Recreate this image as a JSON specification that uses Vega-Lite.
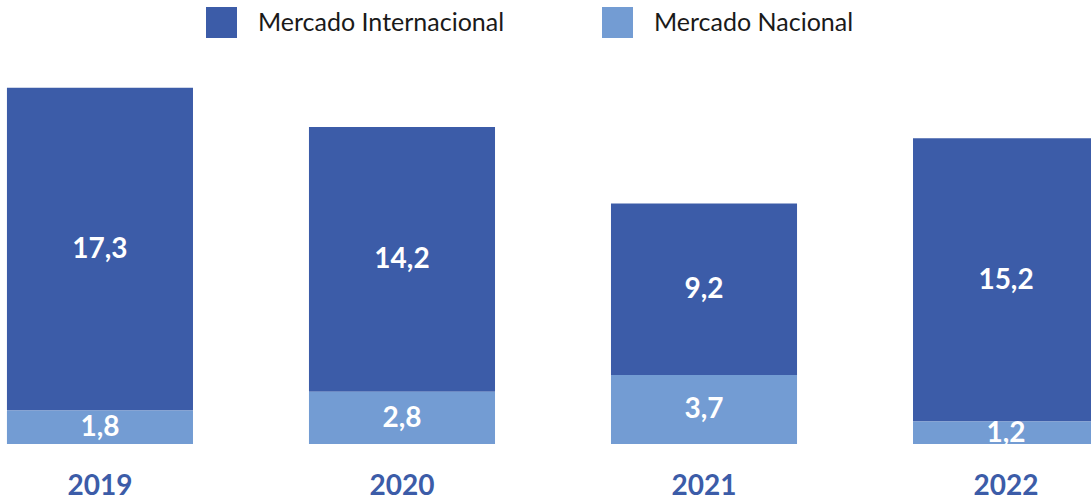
{
  "$schema": "https://vega.github.io/schema/vega-lite/v6.json",
  "width": 1106,
  "height": 373,
  "autosize": {"type": "none"},
  "padding": {"left": 0, "top": 71, "right": 0, "bottom": 56},
  "background": "white",
  "config": {"view": {"stroke": null}},
  "data": {"values": [
    {"ano": "2019", "mercado": "Mercado Internacional", "valor": 17.3, "ord": 2, "rotulo": "17,3"},
    {"ano": "2019", "mercado": "Mercado Nacional", "valor": 1.8, "ord": 1, "rotulo": "1,8"},
    {"ano": "2020", "mercado": "Mercado Internacional", "valor": 14.2, "ord": 2, "rotulo": "14,2"},
    {"ano": "2020", "mercado": "Mercado Nacional", "valor": 2.8, "ord": 1, "rotulo": "2,8"},
    {"ano": "2021", "mercado": "Mercado Internacional", "valor": 9.2, "ord": 2, "rotulo": "9,2"},
    {"ano": "2021", "mercado": "Mercado Nacional", "valor": 3.7, "ord": 1, "rotulo": "3,7"},
    {"ano": "2022", "mercado": "Mercado Internacional", "valor": 15.2, "ord": 2, "rotulo": "15,2"},
    {"ano": "2022", "mercado": "Mercado Nacional", "valor": 1.2, "ord": 1, "rotulo": "1,2"}
  ]},
  "transform": [
    {"stack": "valor", "groupby": ["ano"], "sort": [{"field": "ord", "order": "ascending"}], "as": ["y0", "y1"]},
    {"calculate": "(datum.y0 + datum.y1) / 2", "as": "ymid"}
  ],
  "encoding": {
    "x": {
      "field": "ano", "type": "nominal", "title": null,
      "scale": {"paddingInner": 0.384, "paddingOuter": 0.023},
      "axis": {"domain": false, "ticks": false, "labelAngle": 0, "labelPadding": 42, "labelBaseline": "middle",
        "labelFont": "Lato", "labelFontWeight": "bold", "labelFontSize": 28, "labelColor": "#3c5ca8"}
    }
  },
  "layer": [
    {
      "mark": {"type": "bar"},
      "encoding": {
        "y": {"field": "y0", "type": "quantitative", "scale": {"domain": [0, 20], "nice": false}, "axis": null},
        "y2": {"field": "y1"},
        "color": {
          "field": "mercado", "type": "nominal",
          "scale": {"domain": ["Mercado Internacional", "Mercado Nacional"], "range": ["#3c5ca8", "#739cd3"]},
          "legend": {
            "title": null, "orient": "none", "direction": "horizontal", "legendX": 206, "legendY": -64,
            "symbolType": "square", "symbolSize": 961, "symbolStrokeWidth": 0, "symbolOpacity": 1,
            "labelFont": "Lato", "labelFontSize": 25, "labelColor": "#1a1a1a", "labelOffset": 21,
            "columnPadding": 97, "padding": 0, "labelLimit": 400
          }
        }
      }
    },
    {
      "mark": {"type": "text", "color": "white", "font": "Lato", "fontWeight": "bold", "fontSize": 28, "baseline": "middle", "dy": 1},
      "encoding": {
        "y": {"field": "ymid", "type": "quantitative"},
        "text": {"field": "rotulo"}
      }
    }
  ]
}
